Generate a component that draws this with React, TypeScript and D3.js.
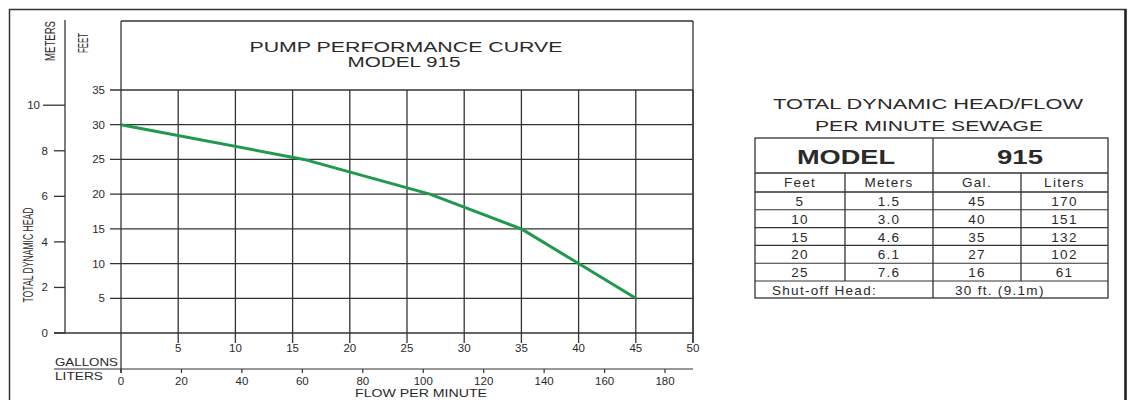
import React from "react";
import * as d3 from "d3";

// ---- data ----
const flowGallons = [0, 16, 27, 35, 40, 45];
const headFeet = [30, 25, 20, 15, 10, 5];

const feetTicks = [5, 10, 15, 20, 25, 30, 35];
const meterTicks = [0, 2, 4, 6, 8, 10];
const gallonTicks = [5, 10, 15, 20, 25, 30, 35, 40, 45, 50];
const literTicks = [0, 20, 40, 60, 80, 100, 120, 140, 160, 180];

const tableFeet = ["5", "10", "15", "20", "25"];
const tableMeters = ["1.5", "3.0", "4.6", "6.1", "7.6"];
const tableGal = ["45", "40", "35", "27", "16"];
const tableLiters = ["170", "151", "132", "102", "61"];

const FONT = "'Liberation Sans', Arial, sans-serif";
const INK = "#2a2a2a";
const GRID = "#333";

export default function App() {
  const x = d3.scaleLinear().domain([0, 50]).range([121, 693]);
  const xL = d3.scaleLinear().domain([0, 50 * 3.785]).range([121, 693]);
  const y = d3.scaleLinear().domain([0, 35]).range([333, 90]);
  const yM = d3.scaleLinear().domain([0, 35 * 0.3048]).range([333, 90]);

  const line = d3
    .line<number>()
    .x((_, i) => x(flowGallons[i]))
    .y((d) => y(d));

  // table geometry
  const tL = 755, tR = 1108, tMid = 933;
  const colX = [755, 845, 933, 1021, 1108];
  const rowTop = 138, modelBottom = 173, headBottom = 192, rowH = 17.8;
  const dataBottom = headBottom + rowH * 5;
  const tBottom = dataBottom + 17;
  const colCenter = (i: number) => (colX[i] + colX[i + 1]) / 2;
  const cellText = { fontFamily: FONT, fontSize: 13.5, fill: INK, textAnchor: "middle" as const, letterSpacing: 1.3 };

  return (
    <svg
      width={1128}
      height={400}
      style={{ position: "absolute", left: 0, top: 0, background: "#fff" }}
    >
      {/* outer frame */}
      <rect x={9.5} y={9.5} width={1116} height={420} fill="none" stroke="#333" strokeWidth={1.5} />
      <line x1={1125.5} x2={1125.5} y1={9} y2={400} stroke="#222" strokeWidth={2.5} />

      {/* meters axis */}
      <line x1={65} x2={65} y1={20} y2={333} stroke={GRID} strokeWidth={1.3} />
      {meterTicks.map((m) => (
        <g key={"m" + m}>
          <line x1={m === 10 ? 43 : 54} x2={65} y1={yM(m)} y2={yM(m)} stroke={GRID} strokeWidth={1.3} />
          <text x={m === 10 ? 40 : 48} y={yM(m) + 4} fontFamily={FONT} fontSize={11.5} fill={INK} textAnchor="end">
            {m}
          </text>
        </g>
      ))}

      {/* plot top box */}
      <line x1={121} x2={693} y1={21} y2={21} stroke={GRID} strokeWidth={1.3} />
      <line x1={693} x2={693} y1={21} y2={343} stroke={GRID} strokeWidth={1.3} />
      <line x1={121} x2={121} y1={21} y2={373} stroke={GRID} strokeWidth={1.3} />

      {/* feet ticks + horizontal grid */}
      {feetTicks.map((f) => (
        <g key={"f" + f}>
          <line x1={110} x2={693} y1={y(f)} y2={y(f)} stroke={GRID} strokeWidth={1.3} />
          <text x={105} y={y(f) + 4} fontFamily={FONT} fontSize={11.5} fill={INK} textAnchor="end">
            {f}
          </text>
        </g>
      ))}
      {/* baseline */}
      <line x1={54} x2={693} y1={333} y2={333} stroke={GRID} strokeWidth={1.3} />

      {/* vertical grid (gallons) */}
      {gallonTicks.map((g) => (
        <g key={"g" + g}>
          <line x1={x(g)} x2={x(g)} y1={90} y2={343} stroke={GRID} strokeWidth={1.3} />
          <text x={x(g)} y={352} fontFamily={FONT} fontSize={11.5} fill={INK} textAnchor="middle">
            {g}
          </text>
        </g>
      ))}

      {/* liters axis */}
      <line x1={54} x2={693} y1={369} y2={369} stroke={GRID} strokeWidth={1.2} />
      {literTicks.map((l) => (
        <g key={"l" + l}>
          <line x1={xL(l)} x2={xL(l)} y1={369} y2={373} stroke={GRID} strokeWidth={1.2} />
          <text x={xL(l)} y={385} fontFamily={FONT} fontSize={11.5} fill={INK} textAnchor="middle">
            {l}
          </text>
        </g>
      ))}

      {/* axis titles */}
      <text x={55} y={366} fontFamily={FONT} fontSize={11.5} fill={INK} textLength={63} lengthAdjust="spacingAndGlyphs">
        GALLONS
      </text>
      <text x={55} y={380} fontFamily={FONT} fontSize={11.5} fill={INK} textLength={48} lengthAdjust="spacingAndGlyphs">
        LITERS
      </text>
      <text x={421} y={397} fontFamily={FONT} fontSize={11} fill={INK} textAnchor="middle" textLength={132} lengthAdjust="spacingAndGlyphs">
        FLOW PER MINUTE
      </text>
      <text transform="translate(55,41) rotate(-90)" fontFamily={FONT} fontSize={14.5} fill={INK} textAnchor="middle" textLength={40} lengthAdjust="spacingAndGlyphs">
        METERS
      </text>
      <text transform="translate(88,43) rotate(-90)" fontFamily={FONT} fontSize={15} fill={INK} textAnchor="middle" textLength={20} lengthAdjust="spacingAndGlyphs">
        FEET
      </text>
      <text transform="translate(33,255) rotate(-90)" fontFamily={FONT} fontSize={14.5} fill={INK} textAnchor="middle" textLength={95} lengthAdjust="spacingAndGlyphs">
        TOTAL DYNAMIC HEAD
      </text>

      {/* chart title */}
      <text x={406} y={52} fontFamily={FONT} fontSize={15} fill={INK} textAnchor="middle" textLength={313} lengthAdjust="spacingAndGlyphs">
        PUMP PERFORMANCE CURVE
      </text>
      <text x={404} y={67} fontFamily={FONT} fontSize={15} fill={INK} textAnchor="middle" textLength={113} lengthAdjust="spacingAndGlyphs">
        MODEL 915
      </text>

      {/* curve */}
      <path d={line(headFeet) || ""} fill="none" stroke="#1f9a4d" strokeWidth={3} strokeLinejoin="round" />

      {/* right titles */}
      <text x={928} y={109} fontFamily={FONT} fontSize={15.5} fill={INK} textAnchor="middle" textLength={310} lengthAdjust="spacingAndGlyphs">
        TOTAL DYNAMIC HEAD/FLOW
      </text>
      <text x={929} y={131} fontFamily={FONT} fontSize={15.5} fill={INK} textAnchor="middle" textLength={228} lengthAdjust="spacingAndGlyphs">
        PER MINUTE SEWAGE
      </text>

      {/* table */}
      <rect x={tL} y={rowTop} width={tR - tL} height={tBottom - rowTop} fill="none" stroke={GRID} strokeWidth={1.3} />
      <line x1={tMid} x2={tMid} y1={rowTop} y2={tBottom} stroke={GRID} strokeWidth={1.3} />
      <line x1={colX[1]} x2={colX[1]} y1={modelBottom} y2={dataBottom} stroke={GRID} strokeWidth={1.3} />
      <line x1={colX[3]} x2={colX[3]} y1={modelBottom} y2={dataBottom} stroke={GRID} strokeWidth={1.3} />
      <line x1={tL} x2={tR} y1={modelBottom} y2={modelBottom} stroke={GRID} strokeWidth={1.3} />
      <line x1={tL} x2={tR} y1={headBottom} y2={headBottom} stroke={GRID} strokeWidth={1.3} />
      {tableFeet.map((_, i) => (
        <line key={"r" + i} x1={tL} x2={tR} y1={headBottom + rowH * (i + 1)} y2={headBottom + rowH * (i + 1)} stroke={GRID} strokeWidth={1.1} />
      ))}
      <text x={846} y={164} fontFamily={FONT} fontSize={20} fontWeight={600} fill={INK} textAnchor="middle" textLength={98} lengthAdjust="spacingAndGlyphs">
        MODEL
      </text>
      <text x={1020} y={164} fontFamily={FONT} fontSize={20} fontWeight={600} fill={INK} textAnchor="middle" textLength={46} lengthAdjust="spacingAndGlyphs">
        915
      </text>
      {["Feet", "Meters", "Gal.", "Liters"].map((h, i) => (
        <text key={h} x={colCenter(i)} y={187} {...cellText}>
          {h}
        </text>
      ))}
      {tableFeet.map((f, i) => {
        const by = headBottom + rowH * i + 14;
        const vals = [f, tableMeters[i], tableGal[i], tableLiters[i]];
        return vals.map((v, j) => (
          <text key={"c" + i + "-" + j} x={colCenter(j)} y={by} {...cellText}>
            {v}
          </text>
        ));
      })}
      <text x={772} y={dataBottom + 13.5} fontFamily={FONT} fontSize={13.5} fill={INK} letterSpacing={1.3}>
        Shut-off Head:
      </text>
      <text x={955} y={dataBottom + 13.5} fontFamily={FONT} fontSize={13.5} fill={INK} letterSpacing={1.3}>
        30 ft. (9.1m)
      </text>
    </svg>
  );
}
